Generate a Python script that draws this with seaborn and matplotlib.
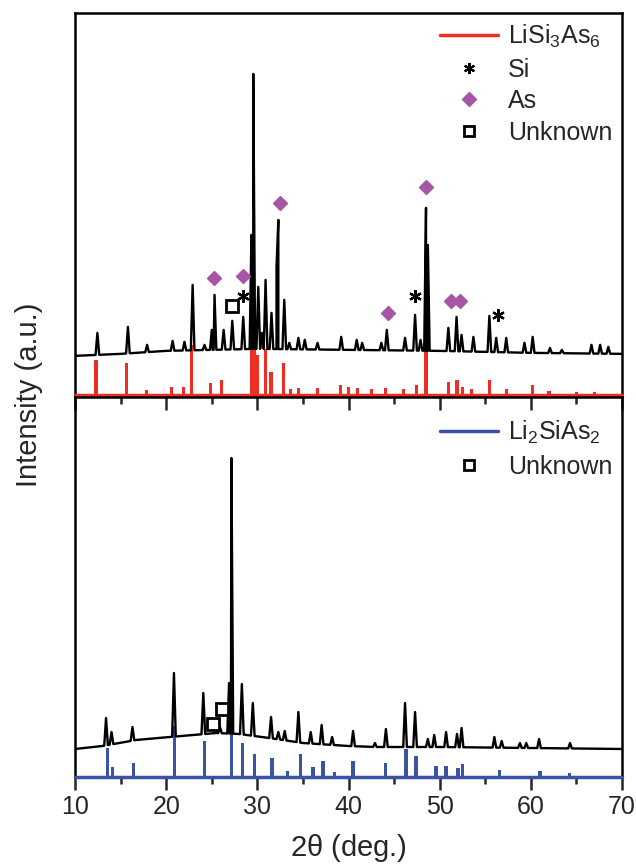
import numpy as np
import pandas as pd
import matplotlib
matplotlib.use("Agg")
import matplotlib.pyplot as plt
import seaborn as sns
from matplotlib.lines import Line2D

sns.set_style("white")
plt.rcParams['font.family'] = ['Liberation Sans', 'DejaVu Sans']
plt.rcParams['mathtext.default'] = 'regular'

# ---------------- data (top: LiSi3As6 sample) ----------------
top_base_x = [10, 15, 20, 30, 40, 50, 60, 70]
top_base_y = [39, 41, 44, 46, 45, 44, 42, 41]
top_peak_x = [12.45, 15.8, 17.9, 20.7, 22.0, 22.9, 24.2, 25.0, 25.3, 26.3, 27.25, 28.45,
              29.35, 29.55, 30.1, 30.5, 30.9, 31.55, 32.1, 32.3, 32.95, 33.5, 34.5, 35.2,
              36.6, 39.2, 40.9, 41.5, 43.6, 44.2, 46.2, 47.3, 47.9, 48.5, 48.7, 50.95,
              51.85, 52.4, 53.7, 55.45, 56.2, 57.3, 59.3, 60.2, 62.1, 63.4, 66.65, 67.6, 68.5]
top_peak_y = [62, 68, 50, 54, 53, 110, 50, 65, 100, 65, 74, 78,
              160, 321, 108, 62, 115, 82, 128, 175, 95, 52, 57, 55,
              52, 58, 55, 52, 52, 65, 57, 80, 55, 187, 150, 67,
              78, 60, 58, 79, 57, 57, 52, 58, 47, 45, 50, 50, 48]
ref1_x = [12.3, 15.6, 17.8, 20.6, 21.9, 22.8, 24.9, 26.1, 29.35, 29.5, 29.65, 30.0, 30.85,
          31.5, 32.85, 33.6, 34.5, 36.6, 39.1, 40.0, 41.0, 42.5, 44.1, 46.0, 47.5, 48.5,
          51.0, 51.9, 52.5, 53.5, 55.5, 57.3, 60.2, 62.0, 65.0, 67.0]
ref1_y = [35, 32, 5, 8, 8, 50, 12, 15, 80, 118, 90, 40, 46,
          23, 32, 6, 7, 7, 10, 8, 7, 6, 7, 6, 10, 66,
          13, 15, 8, 6, 15, 6, 10, 4, 3, 3]
si_x = [28.45, 47.28, 56.4]
si_y = [99, 99, 80]
as_x = [25.27, 28.42, 32.45, 44.3, 48.55, 51.2, 52.2]
as_y = [117, 119, 192, 82, 208, 94, 94]
unk1_x = [27.2]
unk1_y = [89]

# ---------------- data (bottom: Li2SiAs2 sample) ----------------
bot_base_x = [10, 13, 16.7, 20.4, 25.5, 28, 31.3, 35, 40, 43, 50, 60, 70]
bot_base_y = [28, 31, 37, 40, 44, 43, 39, 34, 31, 30, 30, 29, 28]
bot_peak_x = [13.4, 14.0, 16.3, 20.85, 24.07, 25.9, 26.9, 27.15, 28.3, 29.5, 31.5, 32.3,
              33.0, 34.5, 35.85, 37.05, 38.2, 40.5, 42.9, 44.1, 46.2, 47.3, 48.7, 49.4,
              50.7, 51.9, 52.4, 56.0, 56.8, 58.8, 59.5, 60.9, 64.3]
bot_peak_y = [59, 45, 50, 104, 84, 50, 94, 319, 93, 74, 60, 45,
              46, 65, 45, 52, 40, 46, 34, 48, 74, 65, 38, 42,
              45, 43, 49, 40, 36, 34, 34, 38, 34]
ref2_x = [13.55, 14.1, 16.4, 20.95, 24.2, 27.2, 28.4, 29.7, 31.6, 33.3, 34.7, 36.1, 37.2,
          38.5, 40.5, 44.1, 46.3, 47.4, 49.6, 50.7, 52.0, 52.5, 56.6, 61.0, 64.2]
ref2_y = [29, 10, 14, 51, 36, 158, 34, 23, 19, 6, 23, 10, 16,
          5, 16, 14, 28, 21, 11, 11, 9, 13, 7, 6, 4]
unk2_x = [25.1, 26.08]
unk2_y = [53, 68]

RED = '#EE2E24'
BLUE = '#3A53A4'
PURPLE = '#A756A6'
HW = 0.2


def pattern(bx, by, px, py):
    pts = []
    for x0, y0 in zip(bx, by):
        if all(abs(x0 - p) > HW for p in px):
            pts.append((x0, y0))
    for p, h in zip(px, py):
        pts.append((p - HW, float(np.interp(p - HW, bx, by))))
        pts.append((p, h))
        pts.append((p + HW, float(np.interp(p + HW, bx, by))))
    pts.sort(key=lambda t: t[0])
    return pd.DataFrame(pts, columns=['x', 'y'])


fig = plt.figure(figsize=(6.36, 8.64), dpi=100)
ax1 = fig.add_axes([0.118, 0.543, 0.860, 0.442])
ax2 = fig.add_axes([0.118, 0.1007, 0.860, 0.4398])

ASTER = (6, 2, 0)
LEGFS = 18

# top panel
d1 = pattern(top_base_x, top_base_y, top_peak_x, top_peak_y)
sns.lineplot(data=d1, x='x', y='y', ax=ax1, color='black', lw=1.7, sort=False,
             estimator=None)
ax1.bar(ref1_x, ref1_y, width=0.35, color=RED, lw=0)
ax1.axhline(0, color=RED, lw=2.5, clip_on=False, zorder=5)
ax1.plot(si_x, si_y, ls='none', marker=ASTER, ms=9, mew=1.6, color='black')
ax1.plot(as_x, as_y, ls='none', marker='D', ms=7.5, color=PURPLE)
ax1.plot(unk1_x, unk1_y, ls='none', marker='s', ms=8, mfc='white', mec='black', mew=2)
ax1.set_xlim(10, 70)
ax1.set_ylim(0, 382)
h1 = [Line2D([], [], color=RED, lw=2.5),
      Line2D([], [], ls='none', marker=ASTER, ms=8, mew=1.5, color='black'),
      Line2D([], [], ls='none', marker='D', ms=7, color=PURPLE),
      Line2D([], [], ls='none', marker='s', ms=7, mfc='white', mec='black', mew=2)]
ax1.legend(h1, [r'LiSi$_3$As$_6$', 'Si', 'As', 'Unknown'], loc='upper right',
           frameon=False, fontsize=LEGFS, handlelength=2.3, labelspacing=0.3,
           borderaxespad=0.0, handletextpad=0.4, bbox_to_anchor=(1.0, 1.0))
ax1.set_xticks([])
ax1.set_yticks([])
ax1.set_xlabel('')
ax1.set_ylabel('')

# bottom panel
d2 = pattern(bot_base_x, bot_base_y, bot_peak_x, bot_peak_y)
sns.lineplot(data=d2, x='x', y='y', ax=ax2, color='black', lw=1.7, sort=False,
             estimator=None)
ax2.bar(ref2_x, ref2_y, width=0.35, color=BLUE, lw=0)
ax2.axhline(0, color=BLUE, lw=2.5, clip_on=False, zorder=5)
ax2.plot(unk2_x, unk2_y, ls='none', marker='s', ms=8, mfc='white', mec='black', mew=2)
ax2.set_xlim(10, 70)
ax2.set_ylim(0, 380)
h2 = [Line2D([], [], color=BLUE, lw=2.5),
      Line2D([], [], ls='none', marker='s', ms=7, mfc='white', mec='black', mew=2)]
ax2.legend(h2, [r'Li$_2$SiAs$_2$', 'Unknown'], loc='upper right',
           frameon=False, fontsize=LEGFS, handlelength=2.3, labelspacing=0.35,
           borderaxespad=0.0, handletextpad=0.4, bbox_to_anchor=(1.0, 0.968))
ax2.set_xticks(np.arange(10, 71, 10))
ax2.set_xticks(np.arange(15, 70, 10), minor=True)
ax2.set_yticks([])
ax2.tick_params(axis='x', which='major', direction='out', length=9, width=1.8,
                labelsize=18, top=True, bottom=True, pad=4)
ax2.tick_params(axis='x', which='minor', direction='out', length=5, width=1.8,
                top=True, bottom=True)
ax2.set_xlabel(r'2$\theta$ (deg.)', fontsize=21, labelpad=9)
ax2.set_ylabel('')
# top-side ticks of the bottom panel point into it (downward)
for t in ax2.xaxis.get_major_ticks() + ax2.xaxis.get_minor_ticks():
    t.tick2line.set_marker(3)  # TICKDOWN

for ax in (ax1, ax2):
    for s in ax.spines.values():
        s.set_color('black')
        s.set_linewidth(1.8)

fig.text(0.046, 0.543, 'Intensity (a.u.)', rotation=90, va='center', ha='center',
         fontsize=21)

fig.savefig('out.png', dpi=100)
